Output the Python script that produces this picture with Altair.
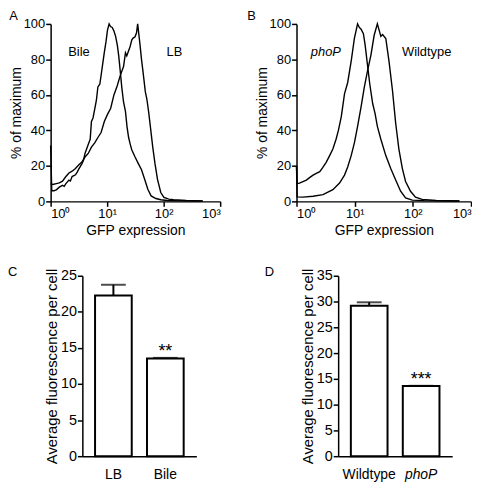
import altair as alt
import pandas as pd

FONT = "Liberation Sans"

# ---------------- Panel A: histograms (log10 GFP position, % of maximum) ----------------
a_bile_log = [0.0, 0.02, 0.06, 0.1, 0.154, 0.21, 0.24, 0.27, 0.324, 0.35, 0.38, 0.44, 0.47, 0.495,
              0.55, 0.58, 0.608, 0.665, 0.70, 0.722, 0.75, 0.78, 0.81, 0.836, 0.87, 0.893, 0.95,
              0.98, 1.006, 1.035, 1.06, 1.09, 1.12, 1.15, 1.18, 1.205, 1.233, 1.26, 1.29, 1.324,
              1.352, 1.38, 1.41, 1.437, 1.494, 1.55, 1.608, 1.665, 1.72, 1.778, 1.863, 1.949,
              2.06, 2.3, 2.69]
a_bile_pct = [31.5, 6, 6, 6.5, 8, 9, 8.5, 10, 12, 11.5, 14, 15, 16.5, 18,
              21, 23, 27, 32, 35, 45, 47, 52, 57, 64.5, 66, 71, 84,
              90, 96.5, 100, 98.5, 98, 96, 93, 88, 82, 73, 64, 56, 50.7,
              42, 36, 32, 29, 25, 21.4, 17.8, 12.3, 6.8, 3.1, 1.6, 0.9,
              0.5, 0.3, 0.2]

a_lb_log = [0.0, 0.04, 0.1, 0.154, 0.21, 0.27, 0.324, 0.38, 0.44, 0.495, 0.55, 0.608, 0.665,
            0.722, 0.78, 0.836, 0.893, 0.95, 1.006, 1.063, 1.12, 1.177, 1.233, 1.29, 1.324,
            1.347, 1.404, 1.437, 1.46, 1.494, 1.52, 1.54, 1.579, 1.608, 1.636, 1.676, 1.70,
            1.71, 1.733, 1.767, 1.807, 1.846, 1.892, 1.949, 2.005, 2.09, 2.175, 2.4, 2.69]
a_lb_pct = [10, 9.5, 10, 10.4, 11.4, 14, 16, 17, 18.5, 20.5, 22, 25, 27,
            30.6, 33, 36, 38.8, 45, 49, 52.5, 60, 65, 71, 76, 83.7,
            82, 87, 91, 92, 92.8, 95, 100, 89, 80, 72.7, 61.7, 58,
            56, 50.7, 41.6, 30.6, 21.4, 12.3, 5, 2.2, 1.3, 0.9, 0.5, 0.3]

# ---------------- Panel B ----------------
b_phop_log = [0.0, 0.01, 0.05, 0.1, 0.17, 0.23, 0.285, 0.34, 0.40, 0.45, 0.51, 0.565, 0.625,
              0.68, 0.72, 0.77, 0.825, 0.88, 0.94, 0.995, 1.05, 1.08, 1.11, 1.15, 1.18, 1.22,
              1.26, 1.31, 1.35, 1.39, 1.45, 1.535, 1.62, 1.705, 1.79, 1.875, 1.99, 2.2, 2.5, 2.8]
b_phop_pct = [20, 10, 10.3, 11, 12, 13.5, 14.8, 15.8, 16.7, 19, 22, 25.5, 29.5,
              35, 40, 47.8, 60.6, 67, 79, 91.8, 100, 98, 97, 94.5, 88, 77,
              66, 55, 49.6, 42.3, 35, 25.8, 18.5, 12, 5.7, 2, 0.7, 0.4, 0.3, 0.2]

b_wt_log = [0.0, 0.01, 0.11, 0.285, 0.455, 0.625, 0.74, 0.825, 0.88, 0.94, 0.995, 1.05, 1.11,
            1.165, 1.22, 1.28, 1.335, 1.39, 1.43, 1.45, 1.48, 1.535, 1.59, 1.65, 1.705, 1.76,
            1.82, 1.875, 1.96, 2.045, 2.16, 2.4, 2.8]
b_wt_pct = [20, 2.5, 2.4, 2.9, 3.8, 6.6, 10.3, 14.8, 19.4, 25.8, 33, 42.3, 53.3,
            64.3, 73.4, 82.6, 93.6, 100, 95.4, 93, 94, 91.8, 79, 62.5, 44, 29.5,
            18.5, 11.2, 5.7, 2.4, 1.1, 0.5, 0.2]

x_tick_values = [1, 10, 100, 1000]
x_tick_labels = ["10\u2070", "10\u00b9", "10\u00b2", "10\u00b3"]
y_hist_ticks = [0, 20, 40, 60, 80, 100]

a_labels = ["Bile", "LB"]
a_label_x = [3.17, 155]
b_labels = ["phoP", "Wildtype"]
b_label_x = [3.2, 173]
label_y = 84

# ---------------- Panels C and D: bars ----------------
c_cond = ["LB", "Bile"]
c_mean = [22.25, 13.54]
c_err = [1.5, 0.08]
c_sig = ["", "**"]
c_ticks = [0, 5, 10, 15, 20, 25]

d_cond = ["Wildtype", "phoP"]
d_mean = [29.2, 13.6]
d_err = [0.65, 0.05]
d_sig = ["", "***"]
d_ticks = [0, 5, 10, 15, 20, 25, 30, 35]


def hist_df(series):
    rows = []
    for name, logs, pcts in series:
        for i, (lg, p) in enumerate(zip(logs, pcts)):
            rows.append({"series": name, "order": i, "gfp": 10 ** lg, "pct": p})
    return pd.DataFrame(rows)


label_expr = " : ".join(
    f"datum.value == {v} ? '{l}'" for v, l in zip(x_tick_values[:-1], x_tick_labels[:-1])
) + f" : '{x_tick_labels[-1]}'"


def letter_title(letter, dx, dy):
    return alt.TitleParams(letter, anchor="start", fontSize=13, fontWeight="normal",
                           font=FONT, dx=dx, dy=dy, offset=0)


def hist_panel(df, labels, label_x, letter, letter_dx, italic_first, width, height):
    x = alt.X("gfp:Q",
              scale=alt.Scale(type="log", domain=[1, 1000], nice=False),
              axis=alt.Axis(values=x_tick_values, labelExpr=label_expr, title="GFP expression",
                            labelFontSize=13, titleFontSize=14, labelPadding=1, titlePadding=3,
                            labelOverlap=False))
    y = alt.Y("pct:Q", scale=alt.Scale(domain=[0, 100], nice=False),
              axis=alt.Axis(values=y_hist_ticks, title="% of maximum",
                            labelFontSize=13, titleFontSize=14, labelPadding=1, titlePadding=0,
                            labelOverlap=False))
    lines = alt.Chart(df).mark_line(color="black", strokeWidth=1.4).encode(
        x=x, y=y, detail="series:N", order="order:Q")
    lab_df = pd.DataFrame({"label": labels, "gfp": label_x, "pct": [label_y] * len(labels)})
    t1 = alt.Chart(lab_df.iloc[[0]]).mark_text(
        fontSize=13, font=FONT, fontStyle="italic" if italic_first else "normal",
        color="black").encode(x=x, y=y, text="label:N")
    t2 = alt.Chart(lab_df.iloc[[1]]).mark_text(
        fontSize=13, font=FONT, color="black").encode(x=x, y=y, text="label:N")
    return alt.layer(lines, t1, t2).properties(
        width=width, height=height, title=letter_title(letter, letter_dx, 5))


def bar_panel(cond, mean, err, sig, ymax, yticks, italic_second, width, height):
    df = pd.DataFrame({"cond": cond, "mean": mean,
                       "hi": [m + e for m, e in zip(mean, err)], "sig": sig})
    style = "normal"
    if italic_second:
        style = {"condition": {"test": f"datum.value == '{cond[1]}'", "value": "italic"},
                 "value": "normal"}
    x = alt.X("cond:N", sort=cond,
              scale=alt.Scale(paddingInner=0.285, paddingOuter=0.24),
              axis=alt.Axis(title=None, ticks=False, labelAngle=0, labelFontSize=14,
                            labelPadding=12, labelFontStyle=style))
    yscale = alt.Scale(domain=[0, ymax], nice=False)
    yaxis = alt.Axis(values=yticks, title="Average fluorescence per cell",
                     labelFontSize=14.5, titleFontSize=15, labelPadding=1, titlePadding=1,
                     labelOverlap=False)
    bars = alt.Chart(df).mark_bar(fill="white", stroke="black", strokeWidth=2, size=37).encode(
        x=x, y=alt.Y("mean:Q", scale=yscale, axis=yaxis))
    err_rule = alt.Chart(df).mark_rule(color="black", strokeWidth=2).encode(
        x=x, y=alt.Y("mean:Q", scale=yscale, axis=yaxis), y2="hi:Q")
    cap = alt.Chart(df).mark_tick(color="black", thickness=2, size=25).encode(
        x=x, y=alt.Y("hi:Q", scale=yscale, axis=yaxis))
    stars = alt.Chart(df).mark_text(fontSize=18, font=FONT, color="black",
                                    baseline="alphabetic", dy=-1).encode(
        x=x, y=alt.Y("hi:Q", scale=yscale, axis=yaxis), text="sig:N")
    return alt.layer(err_rule, bars, cap, stars).properties(width=width, height=height)


def empty_cell(width, letter=None, dx=0, dy=0):
    # an empty cell used for spacing; it may carry a panel letter as its title
    ch = alt.Chart(pd.DataFrame({"t": [""]})).mark_text().encode(text="t:N")
    if letter is None:
        return ch.properties(width=width, height=1)
    return ch.properties(width=width, height=1, title=letter_title(letter, dx, dy))


df_a = hist_df([("Bile", a_bile_log, a_bile_pct), ("LB", a_lb_log, a_lb_pct)])
df_b = hist_df([("phoP", b_phop_log, b_phop_pct), ("Wildtype", b_wt_log, b_wt_pct)])

A = hist_panel(df_a, a_labels, a_label_x, "A", 0, False, 171, 179)
B = hist_panel(df_b, b_labels, b_label_x, "B", -8, True, 176, 179)
C = bar_panel(c_cond, c_mean, c_err, c_sig, 25, c_ticks, False, 115, 182)
D = bar_panel(d_cond, d_mean, d_err, d_sig, 35, d_ticks, True, 115, 182)
AL = empty_cell(1)
CL = empty_cell(35, "C", 0, 9)
DL = empty_cell(102, "D", 68, 9)

top = alt.hconcat(AL, alt.hconcat(A, B, spacing=26), spacing=0)
bottom = alt.hconcat(CL, C, DL, D, spacing=1)

chart = alt.vconcat(top, bottom, spacing=29).properties(
    padding=0
).configure(
    font=FONT
).configure_view(stroke=None).configure_axis(
    grid=False, domainColor="black", domainWidth=1.5, tickColor="black", tickWidth=1.5,
    tickSize=5, labelColor="black", titleColor="black", labelFont=FONT, titleFont=FONT,
    titleFontWeight="normal"
)

chart.save("out.html", embed_options={"renderer": "svg", "actions": False})
